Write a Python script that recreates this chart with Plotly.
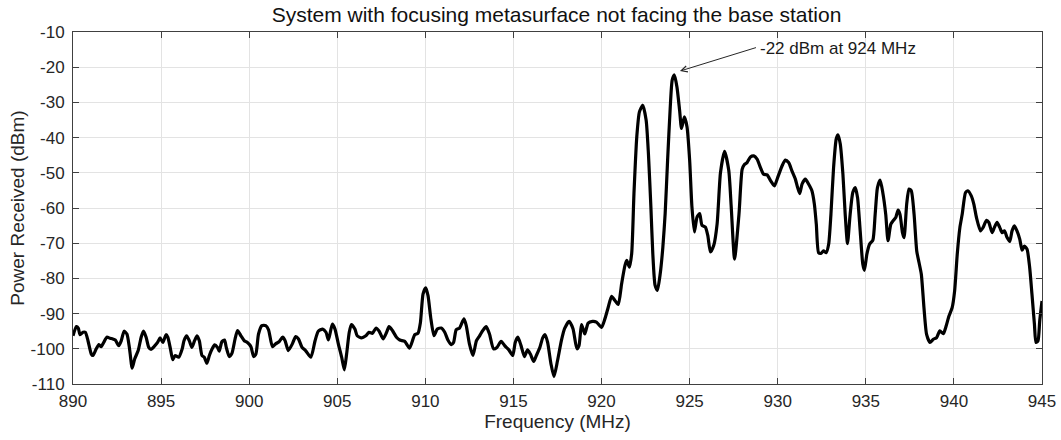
import plotly.graph_objects as go

# spectrum
freq_mhz = [
    890.0, 890.19, 890.3, 890.4, 890.57, 890.7, 890.85, 891.04, 891.13, 891.32,
    891.47, 891.6, 891.74, 891.92, 892.1, 892.26, 892.4, 892.6, 892.74, 892.9,
    893.06, 893.2, 893.36, 893.5, 893.7, 893.87, 894.0, 894.15, 894.3, 894.43,
    894.6, 894.8, 894.94, 895.1, 895.28, 895.38, 895.53, 895.66, 895.8, 896.0,
    896.2, 896.3, 896.45, 896.6, 896.75, 896.9, 897.04, 897.17, 897.32, 897.45,
    897.6, 897.74, 897.9, 898.04, 898.2, 898.3, 898.45, 898.6, 898.7, 898.87,
    899.02, 899.2, 899.34, 899.53, 899.72, 899.9, 900.1, 900.25, 900.38, 900.53,
    900.72, 900.94, 901.1, 901.32, 901.5, 901.7, 901.9, 902.04, 902.22, 902.45,
    902.64, 902.8, 903.0, 903.2, 903.5, 903.74, 903.92, 904.17, 904.36, 904.5,
    904.72, 904.87, 905.06, 905.25, 905.4, 905.53, 905.68, 905.8, 906.0, 906.13,
    906.38, 906.62, 906.8, 907.0, 907.2, 907.38, 907.6, 907.8, 907.94, 908.13,
    908.36, 908.55, 908.83, 909.1, 909.4, 909.58, 909.72, 909.87, 910.02, 910.15,
    910.3, 910.49, 910.68, 910.9, 911.1, 911.28, 911.47, 911.6, 911.75, 911.94,
    912.19, 912.32, 912.5, 912.7, 912.9, 913.08, 913.26, 913.45, 913.64, 913.87,
    914.06, 914.3, 914.5, 914.74, 914.96, 915.1, 915.25, 915.43, 915.62, 915.8,
    915.96, 916.15, 916.3, 916.5, 916.66, 916.8, 916.94, 917.13, 917.3, 917.5,
    917.72, 917.9, 918.16, 918.38, 918.6, 918.72, 918.86, 918.95, 919.05, 919.24,
    919.49, 919.71, 920.0, 920.19, 920.38, 920.57, 920.76, 920.95, 921.14, 921.33,
    921.43, 921.58, 921.71, 921.84, 922.0, 922.15, 922.34, 922.53, 922.66, 922.8,
    922.91, 923.04, 923.17, 923.33, 923.48, 923.61, 923.75, 923.9, 924.01, 924.13,
    924.28, 924.43, 924.54, 924.7, 924.85, 925.0, 925.13, 925.27, 925.42, 925.57,
    925.7, 925.89, 926.03, 926.18, 926.37, 926.56, 926.75, 926.98, 927.22, 927.36,
    927.55, 927.8, 927.98, 928.1, 928.26, 928.45, 928.64, 928.83, 929.02, 929.2,
    929.4, 929.6, 929.81, 930.0, 930.25, 930.43, 930.62, 930.8, 931.0, 931.13,
    931.25, 931.38, 931.57, 931.75, 931.94, 932.08, 932.19, 932.32, 932.45, 932.6,
    932.75, 932.89, 933.02, 933.17, 933.32, 933.42, 933.55, 933.7, 933.83, 933.96,
    934.11, 934.26, 934.4, 934.53, 934.68, 934.83, 934.92, 935.06, 935.21, 935.4,
    935.53, 935.66, 935.81, 935.96, 936.13, 936.26, 936.42, 936.57, 936.7, 936.83,
    936.94, 937.08, 937.17, 937.32, 937.45, 937.58, 937.74, 937.89, 938.02, 938.15,
    938.3, 938.45, 938.64, 938.83, 939.02, 939.2, 939.4, 939.53, 939.72, 939.9,
    940.04, 940.19, 940.34, 940.47, 940.66, 940.79, 940.98, 941.13, 941.28, 941.51,
    941.66, 941.85, 941.98, 942.17, 942.3, 942.45, 942.6, 942.74, 942.87, 943.02,
    943.17, 943.3, 943.43, 943.58, 943.74, 943.87, 944.0, 944.15, 944.3, 944.43,
    944.57, 944.66, 944.77, 944.87, 945.0,
]
power_dbm = [
    -96.3, -93.7, -94.1, -96.0, -95.3, -95.3, -97.7, -101.5, -101.9, -100.0,
    -98.8, -99.4, -98.2, -96.7, -97.0, -97.2, -97.5, -99.1, -97.7, -95.0,
    -95.8, -99.6, -105.5, -102.9, -100.5, -96.7, -95.0, -96.7, -99.6, -100.2,
    -99.4, -98.2, -96.9, -98.2, -96.0, -96.7, -100.0, -103.1, -101.9, -102.4,
    -100.0, -97.7, -96.3, -97.7, -99.6, -97.7, -96.3, -97.7, -101.9, -102.4,
    -104.1, -101.9, -100.0, -98.9, -99.6, -100.7, -98.0, -97.5, -99.6, -102.2,
    -101.3, -97.2, -94.8, -96.3, -97.7, -98.2, -99.4, -102.2, -101.5, -95.8,
    -93.4, -93.4, -94.6, -99.4, -98.6, -98.0, -96.7, -97.7, -100.5, -98.6,
    -96.5, -97.2, -99.6, -100.5, -102.4, -97.7, -95.0, -94.4, -95.3, -97.5,
    -93.0, -94.4, -98.6, -102.4, -106.0, -101.5, -95.3, -93.1, -94.4, -96.3,
    -96.9, -96.3, -95.3, -95.6, -94.1, -95.0, -97.2, -95.3, -93.7, -94.8,
    -96.7, -97.5, -97.9, -99.8, -96.0, -95.6, -92.5, -84.4, -82.7, -84.9,
    -91.0, -96.3, -94.4, -94.1, -95.3, -97.5, -98.8, -98.2, -94.6, -94.1,
    -91.5, -93.4, -98.6, -101.9, -97.7, -96.3, -94.8, -93.7, -95.8, -100.0,
    -99.6, -97.9, -99.1, -100.3, -101.9, -98.2, -96.7, -99.1, -102.2, -100.3,
    -101.5, -103.6, -101.9, -99.6, -96.9, -96.0, -98.2, -104.3, -107.9, -103.4,
    -97.7, -94.3, -92.2, -94.3, -100.0, -99.1, -93.1, -94.3, -95.8, -92.7,
    -92.2, -92.4, -93.9, -91.5, -88.2, -85.1, -86.3, -87.4, -81.5, -76.3,
    -74.9, -76.8, -73.0, -55.9, -39.8, -32.7, -30.8, -35.0, -44.5, -59.7,
    -73.0, -82.0, -83.4, -78.7, -71.1, -61.6, -46.4, -31.3, -23.7, -22.2,
    -25.6, -32.2, -37.4, -34.1, -36.9, -46.4, -59.7, -66.8, -62.6, -61.6,
    -64.9, -65.4, -67.8, -72.5, -70.6, -64.5, -50.0, -43.9, -49.3, -59.7,
    -74.5, -61.8, -49.0, -47.7, -47.1, -45.5, -45.2, -46.1, -48.5, -50.4,
    -50.6, -52.3, -53.7, -51.3, -48.0, -46.4, -47.1, -49.4, -51.8, -54.2,
    -55.9, -53.2, -51.8, -53.2, -55.1, -58.9, -64.6, -72.7, -72.9, -72.2,
    -72.7, -70.3, -61.8, -48.5, -40.4, -39.2, -41.8, -50.4, -61.8, -70.1,
    -61.8, -55.6, -54.2, -57.0, -66.5, -76.0, -77.7, -73.1, -70.3, -69.1,
    -61.8, -54.2, -52.1, -55.5, -61.8, -69.3, -64.6, -63.5, -62.7, -60.6,
    -61.8, -67.0, -68.4, -58.9, -54.6, -55.1, -61.8, -72.2, -75.5, -78.8,
    -88.3, -95.9, -98.2, -97.3, -96.8, -94.9, -95.7, -94.0, -90.7, -88.3,
    -83.6, -73.1, -65.5, -61.8, -55.6, -55.1, -56.5, -58.9, -62.7, -66.5,
    -65.5, -63.5, -64.1, -67.0, -65.5, -64.1, -65.5, -67.0, -66.5, -68.4,
    -69.5, -66.5, -65.1, -66.5, -68.9, -72.0, -70.8, -71.7, -76.9, -84.5,
    -93.0, -98.2, -97.8, -92.1, -86.4,
]

x_ticks = list(range(890, 946, 5))
y_ticks = list(range(-110, -9, 10))
y_ticktext = [str(v) for v in y_ticks]  # plain hyphen like the original

peak_label = "-22 dBm at 924 MHz"
arrow_tip = (924.45, -21.1)
arrow_tail = (928.85, -14.3)

fnt = "Liberation Sans, Arial, sans-serif"
axis_col = "#404040"

fig = go.Figure()
fig.add_trace(go.Scatter(
    x=freq_mhz, y=power_dbm, mode="lines",
    line=dict(color="black", width=3.2, shape="spline", smoothing=0.6),
    showlegend=False, hoverinfo="x+y",
))

# arrow pointing at the peak, then the label on its own
fig.add_annotation(
    x=arrow_tip[0], y=arrow_tip[1], ax=arrow_tail[0], ay=arrow_tail[1],
    xref="x", yref="y", axref="x", ayref="y", text="",
    showarrow=True, arrowhead=5, arrowsize=1.2, arrowwidth=1, arrowcolor="#262626",
)
fig.add_annotation(
    x=arrow_tail[0], y=arrow_tail[1] - 0.5, xref="x", yref="y",
    text=peak_label, showarrow=False, xanchor="left", yanchor="middle", xshift=1,
    font=dict(family=fnt, size=17, color="#1a1a1a"),
)

fig.update_layout(
    width=1061, height=440,
    margin=dict(l=73, r=19, t=32, b=56, autoexpand=False),
    paper_bgcolor="white", plot_bgcolor="white",
    title=dict(
        text="System with focusing metasurface not facing the base station",
        x=0.5245, xanchor="center", y=0.967, yanchor="middle",
        font=dict(family=fnt, size=21, color="#111111"),
    ),
    font=dict(family=fnt, size=17, color="#262626"),
)
fig.update_xaxes(
    range=[890, 945], tickvals=x_ticks, ticks="inside", ticklen=6, tickcolor=axis_col,
    showline=True, linecolor=axis_col, linewidth=1, mirror="ticks",
    showgrid=True, gridcolor="#e3e3e3", gridwidth=1, zeroline=False,
    title=dict(text="Frequency (MHz)", font=dict(size=19), standoff=3),
    tickfont=dict(size=17), ticklabelstandoff=2, automargin=False,
)
fig.update_yaxes(
    range=[-110, -10], tickvals=y_ticks, ticktext=y_ticktext, ticks="inside", ticklen=6,
    tickcolor=axis_col, showline=True, linecolor=axis_col, linewidth=1, mirror="ticks",
    showgrid=True, gridcolor="#e3e3e3", gridwidth=1, zeroline=False,
    title=dict(text="Power Received (dBm)", font=dict(size=19), standoff=0),
    tickfont=dict(size=17), ticklabelstandoff=4, automargin=False,
)

# drop the page's default 8px body margin so the figure fills the window
fig.write_html(
    "out.html",
    config={"displayModeBar": False},
    post_script="document.body.style.margin='0';",
)
